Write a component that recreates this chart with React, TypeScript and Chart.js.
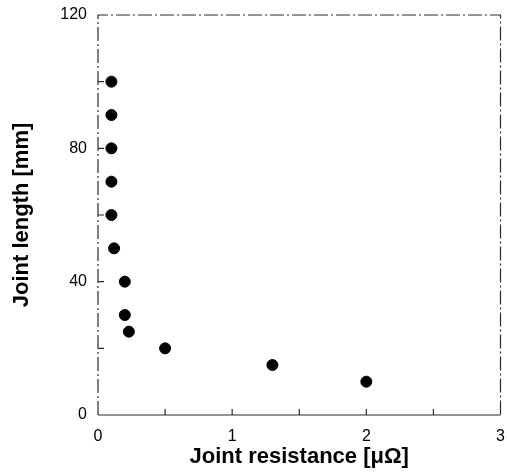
import { useEffect, useRef } from "react";
import { Chart, registerables } from "chart.js";
Chart.register(...registerables);

const resistance = [0.1, 0.1, 0.1, 0.1, 0.1, 0.12, 0.2, 0.2, 0.23, 0.5, 1.3, 2.0];
const lengths = [100, 90, 80, 70, 60, 50, 40, 30, 25, 20, 15, 10];
const xTickMarks = [0.5, 1, 1.5, 2, 2.5];
const yTickMarks = [20, 40, 60, 80, 100];
const xTitle = "Joint resistance [\u03bc\u03a9]";
const yTitle = "Joint length [mm]";

const FONT = "Liberation Sans, Arial, sans-serif";

const framePlugin = {
  id: "frame",
  beforeDatasetsDraw(chart: any) {
    const { ctx, chartArea: a, scales } = chart;
    ctx.save();
    ctx.strokeStyle = "#2a2a2a";
    ctx.lineWidth = 1.2;
    ctx.setLineDash([]);
    ctx.beginPath();
    ctx.moveTo(a.left, a.bottom);
    ctx.lineTo(a.right, a.bottom);
    ctx.stroke();
    ctx.setLineDash([14, 3, 2, 3]);
    ctx.beginPath();
    ctx.moveTo(a.left, a.bottom);
    ctx.lineTo(a.left, a.top);
    ctx.lineTo(a.right, a.top);
    ctx.lineTo(a.right, a.bottom);
    ctx.stroke();
    ctx.setLineDash([]);
    ctx.beginPath();
    for (const v of xTickMarks) {
      const px = scales.x.getPixelForValue(v);
      ctx.moveTo(px, a.bottom);
      ctx.lineTo(px, a.bottom - 6);
    }
    for (const v of yTickMarks) {
      const py = scales.y.getPixelForValue(v);
      ctx.moveTo(a.left, py);
      ctx.lineTo(a.left + 6, py);
    }
    ctx.stroke();
    ctx.restore();
  },
};

export default function App() {
  const ref = useRef<HTMLCanvasElement>(null);
  useEffect(() => {
    document.body.style.margin = "0";
    const chart = new Chart(ref.current!, {
      type: "scatter",
      data: {
        datasets: [
          {
            data: resistance.map((x, i) => ({ x, y: lengths[i] })),
            backgroundColor: "#000",
            borderColor: "#000",
            pointRadius: 5.5,
          },
        ],
      },
      options: {
        animation: false,
        responsive: false,
        layout: { padding: { top: 15, right: 5, left: 0, bottom: 0 } },
        plugins: { legend: { display: false }, tooltip: { enabled: false } },
        scales: {
          x: {
            type: "linear",
            min: 0,
            max: 3,
            grid: { display: false, drawTicks: false },
            border: { display: false },
            afterFit(s: any) {
              s.height = 57;
              s.paddingLeft = 0;
              s.paddingRight = 0;
            },
            ticks: {
              stepSize: 1,
              color: "#000",
              padding: 12,
              font: { family: FONT, size: 16 },
            },
            title: {
              display: true,
              text: xTitle,
              color: "#000",
              padding: { top: 0, bottom: 2 },
              font: { family: FONT, size: 22, weight: "bold" },
            },
          },
          y: {
            type: "linear",
            min: 0,
            max: 120,
            grid: { display: false, drawTicks: false },
            border: { display: false },
            afterFit(s: any) {
              s.width = 98;
              s.paddingTop = 0;
              s.paddingBottom = 0;
            },
            ticks: {
              stepSize: 40,
              color: "#000",
              padding: 11,
              font: { family: FONT, size: 16 },
            },
            title: {
              display: true,
              text: yTitle,
              color: "#000",
              padding: { top: 9, bottom: 0 },
              font: { family: FONT, size: 22, weight: "bold" },
            },
          },
        },
      },
      plugins: [framePlugin],
    });
    return () => chart.destroy();
  }, []);
  return (
    <div style={{ width: 507, height: 472 }}>
      <canvas ref={ref} width={507} height={472} />
    </div>
  );
}
